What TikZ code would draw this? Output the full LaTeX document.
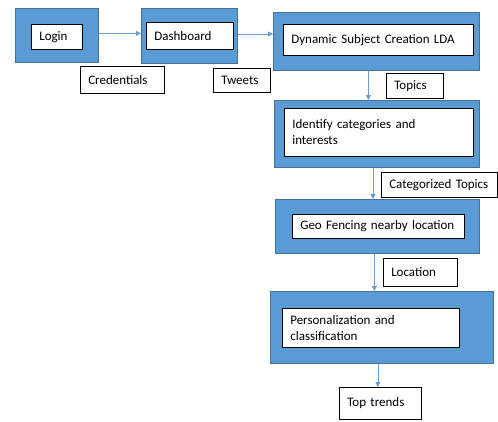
\documentclass[tikz,border=0pt]{standalone}
\usepackage{fontspec}
\setmainfont{Carlito}
\usetikzlibrary{arrows.meta}
\definecolor{boxblue}{HTML}{5B9BD5}
\definecolor{boxedge}{HTML}{41719C}
\definecolor{flowblue}{HTML}{6A9FD4}
\tikzset{
  outerbox/.style={draw=boxedge, fill=boxblue, line width=0.8pt, anchor=north west, inner sep=0pt},
  innerbox/.style={draw=black, fill=white, line width=0.6pt, anchor=north west, inner xsep=8pt, inner ysep=0pt, align=left, font=\fontsize{13}{16}\selectfont},
  labelbox/.style={innerbox, line width=0.5pt},
  flow/.style={draw=flowblue, line width=0.8pt, -{Triangle[length=5pt,width=5pt]}}
}
\begin{document}
\begin{tikzpicture}[x=1pt,y=-1pt]
\useasboundingbox (0,0) rectangle (498,421);
% blue process boxes
\node[outerbox, minimum width=83pt, minimum height=54pt] (login) at (15,8) {};
\node[outerbox, minimum width=96pt, minimum height=55pt] (dash) at (141,8) {};
\node[outerbox, minimum width=206pt, minimum height=58pt] (lda) at (273,12) {};
\node[outerbox, minimum width=205pt, minimum height=67pt] (ident) at (274,100) {};
\node[outerbox, minimum width=204pt, minimum height=54pt] (geo) at (275,199) {};
\node[outerbox, minimum width=223pt, minimum height=72pt] (pers) at (270,291) {};
% white text boxes
\node[innerbox, text width=35pt, minimum height=25pt] (login-in) at (31,24) {Login};
\node[innerbox, text width=71pt, minimum height=27pt] (dash-in) at (146,22) {Dashboard\\[4pt]};
\node[innerbox, text width=174pt, minimum height=31pt] (lda-in) at (283,24) {Dynamic Subject Creation LDA};
\node[innerbox, text width=173pt, minimum height=48pt] (ident-in) at (284,108) {Identify categories and\\interests};
\node[innerbox, text width=156pt, minimum height=24pt] (geo-in) at (292,214) {Geo Fencing nearby location};
\node[innerbox, text width=161pt, minimum height=39pt] (pers-in) at (282,308) {Personalization and\\classification};
% data labels
\node[labelbox, text width=68pt, minimum height=27pt] (cred) at (80,66) {Credentials};
\node[labelbox, text width=41pt, minimum height=24pt] (tweets) at (213,68) {Tweets};
\node[labelbox, text width=41pt, minimum height=25pt] (topics) at (386,73) {Topics};
\node[labelbox, text width=100pt, minimum height=25pt] (cattop) at (381,172) {Categorized Topics};
\node[labelbox, text width=58pt, minimum height=28pt] (loc) at (383,258) {Location};
\node[labelbox, text width=66pt, minimum height=32pt] (trends) at (339,387) {Top trends};
% arrows
\draw[flow] ([yshift=2pt]login.east) -- ([yshift=2pt]login.east -| dash.west);
\draw[flow] ([yshift=2pt]dash.east) -- ([yshift=2pt]dash.east -| lda.west);
\draw[flow] ([xshift=-8pt]lda.south) -- ([xshift=-8pt]lda.south |- ident.north);
\draw[flow] ([xshift=-4pt]ident.south) -- ([xshift=-4pt]ident.south |- geo.north);
\draw[flow] ([xshift=-3pt]geo.south) -- ([xshift=-3pt]geo.south |- pers.north);
\draw[flow] ([xshift=-4pt]pers.south) -- ([xshift=-4pt]pers.south |- trends.north);
\end{tikzpicture}
\end{document}
